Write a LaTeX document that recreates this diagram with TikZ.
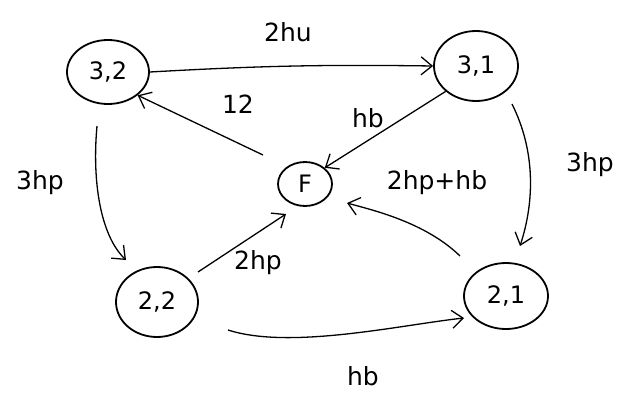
\documentclass[tikz,border=0pt]{standalone}
\usepackage{fontspec}
\setmainfont{DejaVu Sans}
\usetikzlibrary{arrows.meta,shapes.geometric}
\begin{document}
\begin{tikzpicture}[x=1pt,y=-1pt,
  state/.style={ellipse,draw,line width=1.8pt,font=\fontsize{24}{26}\selectfont,inner sep=0pt},
  rate/.style={font=\fontsize{25}{27}\selectfont},
  edge/.style={line width=1.3pt,-{Straight Barb[length=11pt,width=18pt,line width=1.3pt]}}]
\useasboundingbox (0,0) rectangle (634,396);
% states
\node[state,minimum width=82pt,minimum height=64pt] (s32) at (108,72) {3,2};
\node[state,minimum width=84pt,minimum height=70pt] (s31) at (476,66) {3,1};
\node[state,minimum width=54pt,minimum height=44pt] (f) at (305,184) {F};
\node[state,minimum width=82pt,minimum height=70pt] (s22) at (157,302) {2,2};
\node[state,minimum width=84pt,minimum height=66pt] (s21) at (506,296) {2,1};
% free ends of the connectors
\coordinate (fa) at (263,155);
\coordinate (la) at (97,126);
\coordinate (lb) at (126,260);
\coordinate (ra) at (512,104);
\coordinate (rb) at (520,246);
\coordinate (ba) at (460,256);
\coordinate (bb) at (347,203);
\coordinate (ca) at (198,272);
\coordinate (cb) at (286,214);
\coordinate (da) at (228,330);
\coordinate (db) at (464,318);
% transitions
\draw[edge] (s32.east) to[bend left=2] (s31.west);
\draw[edge] (s31.south west) -- (f.north east);
\draw[edge] (fa) -- (s32.south east);
\draw[edge] (la) .. controls (92,180) and (100,235) .. (lb);
\draw[edge] (ra) .. controls (535,150) and (535,200) .. (rb);
\draw[edge] (ba) .. controls (425,222) and (372,210) .. (bb);
\draw[edge] (ca) -- (cb);
\draw[edge] (da) .. controls (290,350) and (400,325) .. (db);
% rates
\node[rate] (l1) at (288,32) {2hu};
\node[rate] (l2) at (368,118) {hb};
\node[rate] (l3) at (238,104) {12};
\node[rate] (l4) at (40,183) {3hp};
\node[rate] (l5) at (590,165) {3hp};
\node[rate] (l6) at (437,183) {2hp+hb};
\node[rate] (l7) at (258,263) {2hp};
\node[rate] (l8) at (363,376) {hb};
\end{tikzpicture}
\end{document}
